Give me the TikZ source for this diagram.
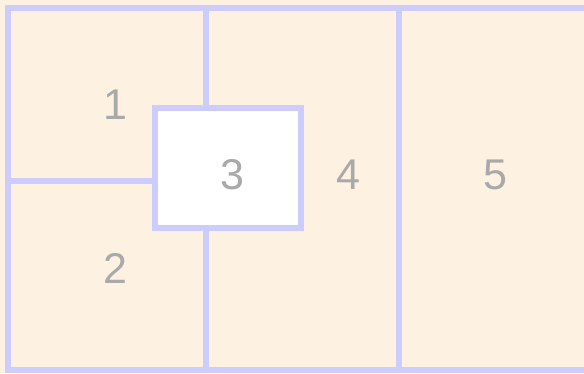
\documentclass[tikz,border=0pt]{standalone}
\usepackage{fontspec}
\setmainfont{Liberation Sans}
\definecolor{paper}{HTML}{FDF2E1}
\definecolor{rule}{HTML}{CCCCFF}
\definecolor{digit}{HTML}{A9A9A9}
\begin{document}
\begin{tikzpicture}[x=1pt,y=-1pt,
  wall/.style={draw=rule,line width=6.5pt},
  lbl/.style={text=digit,font=\fontsize{43}{43}\selectfont,inner sep=0pt}]
\useasboundingbox (0,0) rectangle (584,373);
\fill[paper] (0,0) rectangle (584,373);
\begin{scope}
\clip (0,0) rectangle (584,373);
\draw[wall] (8,8) rectangle (590,370);
\end{scope}
\coordinate (t1) at (206,8);
\coordinate (b1) at (206,370);
\coordinate (t2) at (399,8);
\coordinate (b2) at (399,370);
\coordinate (l12) at (8,181);
\draw[wall] (t1) -- (b1);
\draw[wall] (t2) -- (b2);
\draw[wall] (l12) -- (206,181);
\node[draw=rule,line width=6.5pt,fill=white,minimum width=146pt,minimum height=120pt,inner sep=0pt,outer sep=0pt] (box3) at (228,168) {};
\node[lbl] (n1) at (115,105) {1};
\node[lbl] (n2) at (115,268) {2};
\node[lbl] (n3) at (232,175) {3};
\node[lbl] (n4) at (348,175) {4};
\node[lbl] (n5) at (495,175) {5};
\end{tikzpicture}
\end{document}
